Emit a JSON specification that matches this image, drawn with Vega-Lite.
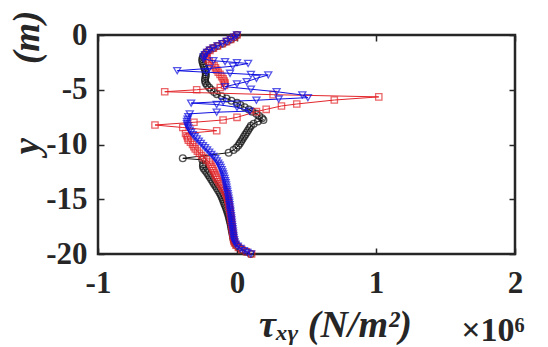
{
"$schema":"https://vega.github.io/schema/vega-lite/v6.json",
"autosize":"none",
"width":417,"height":219,
"padding":{"left":98,"top":35,"right":33,"bottom":93},
"background":"white",
"title":{"text":"×10⁶","orient":"bottom","anchor":"end","font":"Liberation Serif","fontSize":34,"fontWeight":"bold","color":"#262626","offset":-30,"dx":2},
"datasets":{
"K":[
{"i":1,"y":0,"x":0},{"i":2,"y":-0.2,"x":-0.02},{"i":3,"y":-0.4,"x":-0.045},{"i":4,"y":-0.6,"x":-0.075},{"i":5,"y":-0.8,"x":-0.105},{"i":6,"y":-1.0,"x":-0.14},{"i":7,"y":-1.2,"x":-0.17},{"i":8,"y":-1.4,"x":-0.2},{"i":9,"y":-1.6,"x":-0.22},{"i":10,"y":-1.8,"x":-0.235},
{"i":11,"y":-2.0,"x":-0.245},{"i":12,"y":-2.2,"x":-0.25},{"i":13,"y":-2.4,"x":-0.25},{"i":14,"y":-2.6,"x":-0.245},{"i":15,"y":-2.8,"x":-0.24},{"i":16,"y":-3.0,"x":-0.235},{"i":17,"y":-3.2,"x":-0.23},{"i":18,"y":-3.4,"x":-0.225},{"i":19,"y":-3.6,"x":-0.225},{"i":20,"y":-3.8,"x":-0.225},
{"i":21,"y":-4.0,"x":-0.23},{"i":22,"y":-4.2,"x":-0.23},{"i":23,"y":-4.4,"x":-0.225},{"i":24,"y":-4.6,"x":-0.215},{"i":25,"y":-4.8,"x":-0.2},{"i":26,"y":-5.0,"x":-0.185},{"i":27,"y":-5.2,"x":-0.165},{"i":28,"y":-5.4,"x":-0.145},{"i":29,"y":-5.6,"x":-0.11},{"i":30,"y":-5.8,"x":-0.075},
{"i":31,"y":-6.0,"x":-0.04},{"i":32,"y":-6.2,"x":0.0},{"i":33,"y":-6.4,"x":0.025},{"i":34,"y":-6.6,"x":0.055},{"i":35,"y":-6.8,"x":0.085},{"i":36,"y":-7.0,"x":0.11},{"i":37,"y":-7.2,"x":0.14},{"i":38,"y":-7.4,"x":0.16},{"i":39,"y":-7.6,"x":0.18},{"i":40,"y":-7.76,"x":0.19},
{"i":41,"y":-7.9,"x":0.15},{"i":42,"y":-8.1,"x":0.12},{"i":43,"y":-8.3,"x":0.1},{"i":44,"y":-8.5,"x":0.09},{"i":45,"y":-8.7,"x":0.08},{"i":46,"y":-8.9,"x":0.07},{"i":47,"y":-9.1,"x":0.06},{"i":48,"y":-9.3,"x":0.05},{"i":49,"y":-9.5,"x":0.04},{"i":50,"y":-9.7,"x":0.03},
{"i":51,"y":-9.9,"x":0.02},{"i":52,"y":-10.1,"x":0.01},{"i":53,"y":-10.3,"x":-0.005},{"i":54,"y":-10.5,"x":-0.025},{"i":55,"y":-10.75,"x":-0.06},{"i":56,"y":-11.26,"x":-0.39},{"i":57,"y":-11.4,"x":-0.25},{"i":58,"y":-11.8,"x":-0.245},{"i":59,"y":-12.0,"x":-0.245},{"i":60,"y":-12.2,"x":-0.24},
{"i":61,"y":-12.4,"x":-0.228},{"i":62,"y":-12.6,"x":-0.215},{"i":63,"y":-12.8,"x":-0.205},{"i":64,"y":-13.0,"x":-0.195},{"i":65,"y":-13.2,"x":-0.185},{"i":66,"y":-13.4,"x":-0.175},{"i":67,"y":-13.6,"x":-0.165},{"i":68,"y":-13.8,"x":-0.155},{"i":69,"y":-14.0,"x":-0.145},{"i":70,"y":-14.2,"x":-0.135},
{"i":71,"y":-14.4,"x":-0.125},{"i":72,"y":-14.6,"x":-0.117},{"i":73,"y":-14.8,"x":-0.11},{"i":74,"y":-15.0,"x":-0.103},{"i":75,"y":-15.2,"x":-0.097},{"i":76,"y":-15.4,"x":-0.091},{"i":77,"y":-15.6,"x":-0.085},{"i":78,"y":-15.8,"x":-0.079},{"i":79,"y":-16.0,"x":-0.073},{"i":80,"y":-16.2,"x":-0.068},
{"i":81,"y":-16.4,"x":-0.063},{"i":82,"y":-16.6,"x":-0.059},{"i":83,"y":-16.8,"x":-0.055},{"i":84,"y":-17.0,"x":-0.051},{"i":85,"y":-17.2,"x":-0.047},{"i":86,"y":-17.4,"x":-0.044},{"i":87,"y":-17.6,"x":-0.041},{"i":88,"y":-17.8,"x":-0.038},{"i":89,"y":-18.0,"x":-0.035},{"i":90,"y":-18.2,"x":-0.032},
{"i":91,"y":-18.4,"x":-0.029},{"i":92,"y":-18.6,"x":-0.026},{"i":93,"y":-18.8,"x":-0.022},{"i":94,"y":-19.0,"x":-0.016},{"i":95,"y":-19.2,"x":-0.005},{"i":96,"y":-19.4,"x":0.012},{"i":97,"y":-19.6,"x":0.035},{"i":98,"y":-19.8,"x":0.065},{"i":99,"y":-20.0,"x":0.1}
],
"R":[
{"i":1,"y":0,"x":0},{"i":2,"y":-0.2,"x":-0.02},{"i":3,"y":-0.4,"x":-0.045},{"i":4,"y":-0.6,"x":-0.075},{"i":5,"y":-0.8,"x":-0.105},{"i":6,"y":-1.0,"x":-0.14},{"i":7,"y":-1.2,"x":-0.17},{"i":8,"y":-1.4,"x":-0.195},{"i":9,"y":-1.6,"x":-0.215},{"i":10,"y":-1.8,"x":-0.225},
{"i":11,"y":-2.0,"x":-0.225},{"i":12,"y":-2.2,"x":-0.215},{"i":13,"y":-2.4,"x":-0.2},{"i":14,"y":-2.6,"x":-0.18},{"i":15,"y":-2.8,"x":-0.165},{"i":16,"y":-3.0,"x":-0.155},{"i":17,"y":-3.2,"x":-0.146},{"i":18,"y":-3.4,"x":-0.135},{"i":19,"y":-3.6,"x":-0.122},{"i":20,"y":-3.8,"x":-0.11},
{"i":21,"y":-4.0,"x":-0.1},{"i":22,"y":-4.2,"x":-0.092},{"i":23,"y":-4.4,"x":-0.086},{"i":24,"y":-4.6,"x":-0.09},{"i":25,"y":-4.8,"x":-0.12},{"i":26,"y":-5.0,"x":-0.29},{"i":27,"y":-5.18,"x":-0.52},{"i":28,"y":-5.45,"x":0.26},{"i":29,"y":-5.65,"x":1.02},{"i":30,"y":-5.94,"x":0.7},
{"i":31,"y":-6.3,"x":0.43},{"i":32,"y":-6.48,"x":0.32},{"i":33,"y":-6.79,"x":0.21},{"i":34,"y":-7.0,"x":0.14},{"i":35,"y":-7.52,"x":0.0},{"i":36,"y":-7.76,"x":-0.1},{"i":37,"y":-7.97,"x":-0.31},{"i":38,"y":-8.22,"x":-0.59},{"i":39,"y":-8.45,"x":-0.39},{"i":40,"y":-8.74,"x":-0.146},
{"i":41,"y":-9.0,"x":-0.37},{"i":42,"y":-9.2,"x":-0.36},{"i":43,"y":-9.4,"x":-0.355},{"i":44,"y":-9.6,"x":-0.35},{"i":45,"y":-9.8,"x":-0.335},{"i":46,"y":-10.0,"x":-0.32},{"i":47,"y":-10.2,"x":-0.31},{"i":48,"y":-10.4,"x":-0.3},{"i":49,"y":-10.6,"x":-0.285},{"i":50,"y":-10.8,"x":-0.27},
{"i":51,"y":-11.0,"x":-0.255},{"i":52,"y":-11.2,"x":-0.24},{"i":53,"y":-11.4,"x":-0.22},{"i":54,"y":-11.6,"x":-0.2},{"i":55,"y":-11.8,"x":-0.19},{"i":56,"y":-12.0,"x":-0.182},{"i":57,"y":-12.2,"x":-0.175},{"i":58,"y":-12.4,"x":-0.168},{"i":59,"y":-12.6,"x":-0.161},{"i":60,"y":-12.8,"x":-0.154},
{"i":61,"y":-13.0,"x":-0.147},{"i":62,"y":-13.2,"x":-0.14},{"i":63,"y":-13.4,"x":-0.13},{"i":64,"y":-13.6,"x":-0.12},{"i":65,"y":-13.8,"x":-0.11},{"i":66,"y":-14.0,"x":-0.1},{"i":67,"y":-14.2,"x":-0.09},{"i":68,"y":-14.4,"x":-0.082},{"i":69,"y":-14.6,"x":-0.075},{"i":70,"y":-14.8,"x":-0.07},
{"i":71,"y":-15.0,"x":-0.066},{"i":72,"y":-15.2,"x":-0.063},{"i":73,"y":-15.4,"x":-0.06},{"i":74,"y":-15.6,"x":-0.057},{"i":75,"y":-15.8,"x":-0.054},{"i":76,"y":-16.0,"x":-0.051},{"i":77,"y":-16.2,"x":-0.049},{"i":78,"y":-16.4,"x":-0.047},{"i":79,"y":-16.6,"x":-0.045},{"i":80,"y":-16.8,"x":-0.043},
{"i":81,"y":-17.0,"x":-0.041},{"i":82,"y":-17.2,"x":-0.039},{"i":83,"y":-17.4,"x":-0.037},{"i":84,"y":-17.6,"x":-0.035},{"i":85,"y":-17.8,"x":-0.033},{"i":86,"y":-18.0,"x":-0.031},{"i":87,"y":-18.2,"x":-0.029},{"i":88,"y":-18.4,"x":-0.027},{"i":89,"y":-18.6,"x":-0.025},{"i":90,"y":-18.8,"x":-0.022},
{"i":91,"y":-19.0,"x":-0.017},{"i":92,"y":-19.2,"x":-0.007},{"i":93,"y":-19.4,"x":0.01},{"i":94,"y":-19.6,"x":0.035},{"i":95,"y":-19.8,"x":0.068},{"i":96,"y":-20.0,"x":0.105}
],
"B":[
{"i":1,"y":0,"x":0},{"i":2,"y":-0.2,"x":-0.02},{"i":3,"y":-0.4,"x":-0.045},{"i":4,"y":-0.6,"x":-0.074},{"i":5,"y":-0.8,"x":-0.105},{"i":6,"y":-1.0,"x":-0.14},{"i":7,"y":-1.2,"x":-0.17},{"i":8,"y":-1.4,"x":-0.195},{"i":9,"y":-1.6,"x":-0.215},{"i":10,"y":-1.8,"x":-0.23},
{"i":11,"y":-2.0,"x":-0.24},{"i":12,"y":-2.2,"x":-0.24},{"i":13,"y":-2.35,"x":-0.17},{"i":14,"y":-2.43,"x":-0.086},{"i":15,"y":-2.52,"x":0.0},{"i":16,"y":-2.6,"x":0.08},{"i":17,"y":-2.85,"x":-0.03},{"i":18,"y":-3.05,"x":-0.2},{"i":19,"y":-3.26,"x":-0.43},{"i":20,"y":-3.4,"x":-0.22},
{"i":21,"y":-3.5,"x":-0.05},{"i":22,"y":-3.6,"x":0.1},{"i":23,"y":-3.65,"x":0.225},{"i":24,"y":-3.96,"x":0.14},{"i":25,"y":-4.26,"x":0.07},{"i":26,"y":-4.47,"x":0.0},{"i":27,"y":-4.72,"x":-0.086},{"i":28,"y":-4.95,"x":0.1},{"i":29,"y":-5.18,"x":0.285},{"i":30,"y":-5.48,"x":0.47},
{"i":31,"y":-5.72,"x":0.51},{"i":32,"y":-5.85,"x":0.3},{"i":33,"y":-5.96,"x":0.14},{"i":34,"y":-6.08,"x":-0.1},{"i":35,"y":-6.22,"x":-0.33},{"i":36,"y":-6.35,"x":-0.146},{"i":37,"y":-6.6,"x":0.0},{"i":38,"y":-6.95,"x":0.09},{"i":39,"y":-7.05,"x":-0.146},{"i":40,"y":-7.2,"x":-0.34},
{"i":41,"y":-7.46,"x":-0.35},{"i":42,"y":-7.7,"x":-0.355},{"i":43,"y":-7.9,"x":-0.36},{"i":44,"y":-8.1,"x":-0.36},{"i":45,"y":-8.3,"x":-0.355},{"i":46,"y":-8.5,"x":-0.35},{"i":47,"y":-8.7,"x":-0.34},{"i":48,"y":-8.9,"x":-0.33},{"i":49,"y":-9.1,"x":-0.318},{"i":50,"y":-9.3,"x":-0.305},
{"i":51,"y":-9.5,"x":-0.29},{"i":52,"y":-9.7,"x":-0.275},{"i":53,"y":-9.9,"x":-0.26},{"i":54,"y":-10.1,"x":-0.245},{"i":55,"y":-10.3,"x":-0.23},{"i":56,"y":-10.5,"x":-0.215},{"i":57,"y":-10.7,"x":-0.2},{"i":58,"y":-10.9,"x":-0.185},{"i":59,"y":-11.1,"x":-0.17},{"i":60,"y":-11.3,"x":-0.157},
{"i":61,"y":-11.5,"x":-0.145},{"i":62,"y":-11.7,"x":-0.135},{"i":63,"y":-11.9,"x":-0.125},{"i":64,"y":-12.1,"x":-0.118},{"i":65,"y":-12.3,"x":-0.111},{"i":66,"y":-12.5,"x":-0.105},{"i":67,"y":-12.7,"x":-0.1},{"i":68,"y":-12.9,"x":-0.095},{"i":69,"y":-13.1,"x":-0.09},{"i":70,"y":-13.3,"x":-0.086},
{"i":71,"y":-13.5,"x":-0.082},{"i":72,"y":-13.7,"x":-0.079},{"i":73,"y":-13.9,"x":-0.076},{"i":74,"y":-14.1,"x":-0.073},{"i":75,"y":-14.3,"x":-0.07},{"i":76,"y":-14.5,"x":-0.067},{"i":77,"y":-14.7,"x":-0.064},{"i":78,"y":-14.9,"x":-0.061},{"i":79,"y":-15.1,"x":-0.058},{"i":80,"y":-15.3,"x":-0.056},
{"i":81,"y":-15.5,"x":-0.054},{"i":82,"y":-15.7,"x":-0.052},{"i":83,"y":-15.9,"x":-0.05},{"i":84,"y":-16.1,"x":-0.048},{"i":85,"y":-16.3,"x":-0.046},{"i":86,"y":-16.5,"x":-0.044},{"i":87,"y":-16.7,"x":-0.042},{"i":88,"y":-16.9,"x":-0.04},{"i":89,"y":-17.1,"x":-0.038},{"i":90,"y":-17.3,"x":-0.036},
{"i":91,"y":-17.5,"x":-0.034},{"i":92,"y":-17.7,"x":-0.032},{"i":93,"y":-17.9,"x":-0.03},{"i":94,"y":-18.1,"x":-0.028},{"i":95,"y":-18.3,"x":-0.026},{"i":96,"y":-18.5,"x":-0.024},{"i":97,"y":-18.7,"x":-0.021},{"i":98,"y":-18.9,"x":-0.017},{"i":99,"y":-19.1,"x":-0.01},{"i":100,"y":-19.3,"x":0.005},
{"i":101,"y":-19.5,"x":0.025},{"i":102,"y":-19.7,"x":0.05},{"i":103,"y":-19.85,"x":0.075},{"i":104,"y":-20.0,"x":0.1}
]
},
"layer":[
{"data":{"name":"K"},"mark":{"type":"line","color":"#111111","strokeWidth":1,"clip":false},
 "encoding":{"x":{"field":"x","type":"quantitative","scale":{"domain":[-1,2],"nice":false,"zero":false},
   "axis":{"orient":"bottom","values":[-1,0,1,2],"labelExpr":"datum.value + ''","labelFont":"Liberation Serif","labelFontSize":31,"labelFontWeight":"bold","labelColor":"#262626","labelPadding":20,"title":"τₓᵧ (N/m²)","titleFont":"Liberation Serif","titleFontSize":38,"titleFontWeight":"bold","titleFontStyle":"italic","titleColor":"#262626","titleX":237,"titleY":82,"titleAlign":"center","titleBaseline":"alphabetic"}},
  "y":{"field":"y","type":"quantitative","scale":{"domain":[-20,0],"nice":false,"zero":false},
   "axis":{"orient":"left","values":[0,-5,-10,-15,-20],"labelExpr":"datum.value + ''","labelFont":"Liberation Serif","labelFontSize":31,"labelFontWeight":"bold","labelColor":"#262626","labelPadding":17,"title":"y\u2003\u2003(m)","titleFont":"Liberation Serif","titleFontSize":37,"titleFontWeight":"bold","titleFontStyle":"italic","titleColor":"#262626","titleAngle":270,"titleAlign":"left","titleBaseline":"alphabetic","titleX":-60,"titleY":119}},
  "order":{"field":"i","type":"quantitative"}}},
{"data":{"name":"K"},"mark":{"type":"point","shape":"circle","filled":false,"color":"#111111","size":46,"strokeWidth":1.3,"clip":false},
 "encoding":{"x":{"field":"x","type":"quantitative","axis":null},"y":{"field":"y","type":"quantitative","axis":null}}},
{"data":{"name":"R"},"mark":{"type":"line","color":"#e3262b","strokeWidth":1,"clip":false},
 "encoding":{"x":{"field":"x","type":"quantitative","axis":null},"y":{"field":"y","type":"quantitative","axis":null},"order":{"field":"i","type":"quantitative"}}},
{"data":{"name":"R"},"mark":{"type":"point","shape":"square","filled":false,"color":"#e3262b","size":40,"strokeWidth":1.3,"clip":false},
 "encoding":{"x":{"field":"x","type":"quantitative","axis":null},"y":{"field":"y","type":"quantitative","axis":null}}},
{"data":{"name":"B"},"mark":{"type":"line","color":"#1010e0","strokeWidth":1,"clip":false},
 "encoding":{"x":{"field":"x","type":"quantitative","axis":null},"y":{"field":"y","type":"quantitative","axis":null},"order":{"field":"i","type":"quantitative"}}},
{"data":{"name":"B"},"mark":{"type":"point","shape":"triangle-down","filled":false,"color":"#1010e0","size":50,"strokeWidth":1.3,"clip":false},
 "encoding":{"x":{"field":"x","type":"quantitative","axis":{"orient":"top","values":[-1,0,1,2],"labels":false,"title":null}},
  "y":{"field":"y","type":"quantitative","axis":{"orient":"right","values":[0,-5,-10,-15,-20],"labels":false,"title":null}}}}
],
"resolve":{"axis":{"x":"independent","y":"independent"}},
"config":{
 "view":{"stroke":"#262626","strokeWidth":2.5},
 "axis":{"domain":false,"grid":false,"ticks":true,"tickSize":-6,"tickWidth":1.5,"tickColor":"#262626","labelFont":"Liberation Serif","labelFontSize":31,"labelFontWeight":"bold","labelColor":"#262626","labelFlush":false,"labelOverlap":false,"labelBound":false}
}
}
